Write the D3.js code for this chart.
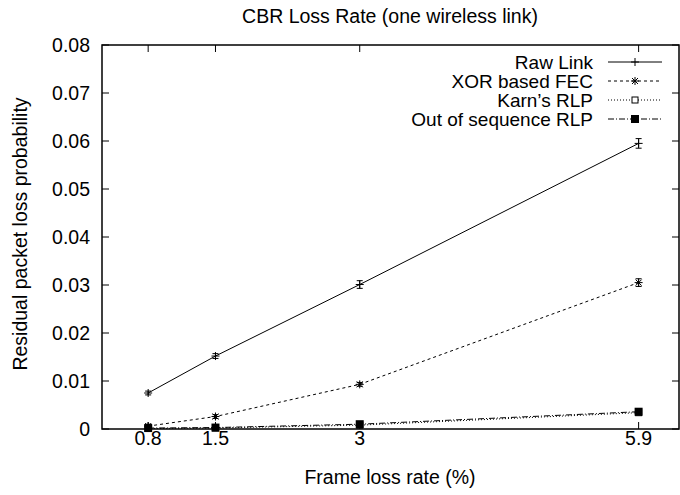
<!DOCTYPE html>
<html>
<head>
<meta charset="utf-8">
<script src="https://cdn.jsdelivr.net/npm/d3@7"></script>
<style>
body { margin: 0; background: #fff; }
text { font-family: "Liberation Sans", Arial, sans-serif; fill: #000; }
</style>
</head>
<body>
<svg id="view" width="680" height="495"></svg>
<script>
var view = d3.select('#view');

const xTicks = [0.8, 1.5, 3, 5.9];
const yTicks = [0, 0.01, 0.02, 0.03, 0.04, 0.05, 0.06, 0.07, 0.08];
const names = ['Raw Link', 'XOR based FEC', "Karn\u2019s RLP", 'Out of sequence RLP'];
const rawLink = [0.0075, 0.0152, 0.0301, 0.0595];
const rawErr = [0.0004, 0.0005, 0.0008, 0.0010];
const xorFec = [0.0006, 0.0026, 0.0093, 0.0305];
const xorErr = [0.0004, 0.0004, 0.0004, 0.0008];
const karnRlp = [0.0001, 0.0002, 0.0008, 0.0034];
const oosRlp = [0.0002, 0.0003, 0.0010, 0.0036];

const M = {left: 102, right: 679, top: 45, bottom: 429};
const FONT = 19.5;
var x = d3.scaleLinear().domain([0.32, 6.32]).range([M.left, M.right]);
var y = d3.scaleLinear().domain([0, 0.08]).range([M.bottom, M.top]);

var series = [
    {name: names[0], vals: rawLink, err: rawErr, dash: null, mark: 'plus'},
    {name: names[1], vals: xorFec, err: xorErr, dash: '3,3', mark: 'star'},
    {name: names[2], vals: karnRlp, err: null, dash: '1,2', mark: 'open'},
    {name: names[3], vals: oosRlp, err: null, dash: '6,2,1,2', mark: 'filled'}
];

function drawMark(g, type, cx, cy) {
    var s = 4;
    if(type == 'plus') {
        g.append('path').attr('d', 'M'+(cx-s)+','+cy+' H'+(cx+s)+' M'+cx+','+(cy-s)+' V'+(cy+s))
            .attr('stroke', '#000').attr('stroke-width', 1);
    } else if(type == 'star') {
        g.append('path').attr('d', 'M'+(cx-s)+','+cy+' H'+(cx+s)+' M'+cx+','+(cy-s)+' V'+(cy+s)
            + ' M'+(cx-3)+','+(cy-3)+' L'+(cx+3)+','+(cy+3)+' M'+(cx-3)+','+(cy+3)+' L'+(cx+3)+','+(cy-3))
            .attr('stroke', '#000').attr('stroke-width', 1);
    } else if(type == 'open') {
        g.append('rect').attr('x', cx-3).attr('y', cy-3).attr('width', 6).attr('height', 6)
            .attr('fill', '#fff').attr('stroke', '#000').attr('stroke-width', 1);
    } else {
        g.append('rect').attr('x', cx-4).attr('y', cy-4).attr('width', 8).attr('height', 8)
            .attr('fill', '#000');
    }
}

// ticks, mirrored on all four sides
var ticks = view.append('g').attr('stroke', '#000').attr('stroke-width', 1);
yTicks.forEach(function(t) {
    ticks.append('line').attr('x1', M.left).attr('x2', M.left+7).attr('y1', y(t)).attr('y2', y(t));
    ticks.append('line').attr('x1', M.right-7).attr('x2', M.right).attr('y1', y(t)).attr('y2', y(t));
});
xTicks.forEach(function(t) {
    ticks.append('line').attr('x1', x(t)).attr('x2', x(t)).attr('y1', M.bottom).attr('y2', M.bottom-7);
    ticks.append('line').attr('x1', x(t)).attr('x2', x(t)).attr('y1', M.top).attr('y2', M.top+7);
});

view.selectAll('text.ytick').data(yTicks).enter().append('text')
    .attr('class', 'ytick')
    .attr('x', M.left-12).attr('y', d=>y(d)+7)
    .attr('text-anchor', 'end').attr('font-size', FONT)
    .text(d => d == 0 ? '0' : d.toFixed(2));
view.selectAll('text.xtick').data(xTicks).enter().append('text')
    .attr('class', 'xtick')
    .attr('x', d=>x(d)).attr('y', M.bottom+16)
    .attr('text-anchor', 'middle').attr('font-size', FONT)
    .text(d => d);

// series
var line = d3.line().x((d,i)=>x(xTicks[i])).y(d=>y(d));
series.forEach(function(s) {
    var g = view.append('g');
    g.append('path').datum(s.vals).attr('d', line)
        .attr('fill', 'none').attr('stroke', '#000').attr('stroke-width', 1)
        .attr('stroke-dasharray', s.dash);
    if(s.err) {
        s.vals.forEach(function(v, i) {
            var cx = x(xTicks[i]), y0 = y(v - s.err[i]), y1 = y(v + s.err[i]);
            g.append('path').attr('d', 'M'+cx+','+y0+' V'+y1+' M'+(cx-3)+','+y0+' H'+(cx+3)+' M'+(cx-3)+','+y1+' H'+(cx+3))
                .attr('stroke', '#000').attr('stroke-width', 1).attr('fill', 'none');
        });
    }
    s.vals.forEach(function(v, i) {
        drawMark(g, s.mark, x(xTicks[i]), y(v));
    });
});

// legend
series.forEach(function(s, i) {
    var ly = 62 + i*19;
    view.append('text').attr('x', 593).attr('y', ly+7).attr('text-anchor', 'end')
        .attr('font-size', 19).text(s.name);
    var g = view.append('g');
    g.append('line').attr('x1', 608).attr('x2', 662).attr('y1', ly).attr('y2', ly)
        .attr('stroke', '#000').attr('stroke-width', 1).attr('stroke-dasharray', s.dash);
    drawMark(g, s.mark, 635, ly);
});

// frame
view.append('rect').attr('x', M.left).attr('y', M.top)
    .attr('width', M.right-M.left).attr('height', M.bottom-M.top)
    .attr('fill', 'none').attr('stroke', '#000').attr('stroke-width', 1.5);

view.append('text').attr('x', 390).attr('y', 23).attr('text-anchor', 'middle')
    .attr('font-size', FONT).text('CBR Loss Rate (one wireless link)');
view.append('text').attr('x', 390).attr('y', 484).attr('text-anchor', 'middle')
    .attr('font-size', FONT).text('Frame loss rate (%)');
view.append('text').attr('transform', 'translate(27,234) rotate(-90)').attr('text-anchor', 'middle')
    .attr('font-size', FONT).text('Residual packet loss probability');
</script>
</body>
</html>
